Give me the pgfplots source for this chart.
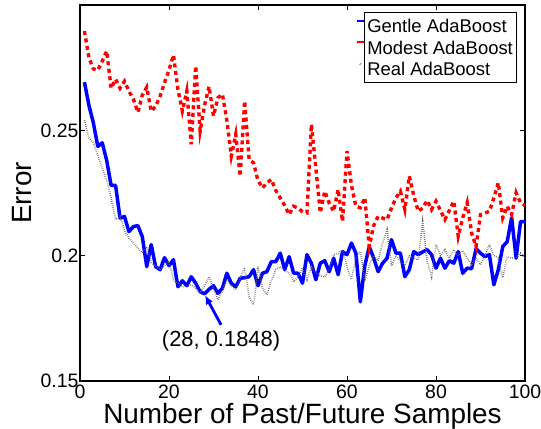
\documentclass[border=0pt]{standalone}
\usepackage{fontspec}
\setmainfont{Liberation Sans}
\usepackage{pgfplots}
\pgfplotsset{compat=1.18}
\usetikzlibrary{arrows.meta}
\begin{document}
\begin{tikzpicture}
\path[use as bounding box] (-80bp,-48bp) rectangle (461bp,381bp);
\begin{axis}[
  scale only axis, width=445bp, height=376bp,
  xmin=0, xmax=100, ymin=0.15, ymax=0.3,
  xtick={0,20,40,60,80,100},
  ytick={0.15,0.2,0.25}, yticklabels={0.15,0.2,0.25},
  scaled y ticks=false,
  tick align=inside, xtick pos=both, ytick pos=both,
  major tick length=5bp,
  axis line style={line width=1.2bp},
  every tick/.style={black, line width=0.8bp},
  /pgf/number format/assume math mode=true,
  tick label style={font=\fontsize{19.5}{22}\selectfont},
  yticklabel style={xshift=2bp},
  xlabel={Number of Past/Future Samples},
  ylabel={Error},
  label style={font=\fontsize{28}{32}\selectfont},
  xlabel style={at={(axis description cs:0.5,0)}, anchor=center, yshift=-35bp},
  ylabel style={at={(axis description cs:-0.1303,0.5)}, anchor=center},
  legend style={at={(rel axis cs:0.9813,0.9806)}, anchor=north east, draw=black, line width=1bp, fill=white,
    font=\fontsize{18.5}{21}\selectfont, inner xsep=3.3bp, inner ysep=3.8bp, row sep=2.7bp, column sep=0bp,
    nodes={inner sep=0bp, text depth=3bp, text height=16bp}},
  legend cell align=left,
  legend image code/.code={\draw[#1,solid,line width=2bp,overlay] (-10bp,5.5bp) -- (-3bp,5.5bp);},
]
\addplot[blue, line width=3.5bp, line join=round] table {
1 0.2692
2 0.2600
3 0.2530
4 0.2436
5 0.2450
6 0.2380
7 0.2280
8 0.2280
9 0.2150
10 0.2156
11 0.2096
12 0.2116
13 0.2120
14 0.2076
15 0.1956
16 0.2044
17 0.1956
18 0.1944
19 0.1992
20 0.1960
21 0.1984
22 0.1876
23 0.1900
24 0.1880
25 0.1916
26 0.1890
27 0.1856
28 0.1848
29 0.1866
30 0.1880
31 0.1850
32 0.1870
33 0.1930
34 0.1890
35 0.1876
36 0.1910
37 0.1912
38 0.1916
39 0.1944
40 0.1880
41 0.1930
42 0.1936
43 0.1976
44 0.1976
45 0.2010
46 0.1944
47 0.1996
48 0.1930
49 0.1930
50 0.1890
51 0.2004
52 0.1970
53 0.1904
54 0.1970
55 0.1980
56 0.1936
57 0.1990
58 0.1924
59 0.2016
60 0.2004
61 0.2050
62 0.2010
63 0.1816
64 0.1960
65 0.2036
66 0.1990
67 0.1936
68 0.1970
69 0.1990
70 0.2064
71 0.2010
72 0.2010
73 0.1916
74 0.1944
75 0.2016
76 0.2004
77 0.2015
78 0.2024
79 0.2004
80 0.1950
81 0.1990
82 0.1950
83 0.1980
84 0.1970
85 0.2016
86 0.1930
87 0.1950
88 0.1948
89 0.2028
90 0.2010
91 0.1996
92 0.2004
93 0.1884
94 0.1944
95 0.2036
96 0.2056
97 0.2152
98 0.1990
99 0.2136
100 0.2136
};
\addlegendentry{Gentle AdaBoost}
\addplot[red, line width=3.4bp, dash pattern=on 4bp off 3.5bp] table {
1 0.2896
2 0.2790
3 0.2745
4 0.2740
5 0.2776
6 0.2816
7 0.2668
8 0.2704
9 0.2668
10 0.2696
11 0.2656
12 0.2624
13 0.2572
14 0.2640
15 0.2672
16 0.2576
17 0.2596
18 0.2636
19 0.2690
20 0.2740
21 0.2800
22 0.2664
23 0.2577
24 0.2657
25 0.2444
26 0.2757
27 0.2497
28 0.2600
29 0.2675
30 0.2557
31 0.2630
32 0.2644
33 0.2540
34 0.2397
35 0.2484
36 0.2317
37 0.2617
38 0.2384
39 0.2370
40 0.2300
41 0.2270
42 0.2290
43 0.2304
44 0.2260
45 0.2230
46 0.2200
47 0.2164
48 0.2197
49 0.2190
50 0.2175
51 0.2171
52 0.2524
53 0.2350
54 0.2171
55 0.2257
56 0.2210
57 0.2177
58 0.2264
59 0.2137
60 0.2417
61 0.2280
62 0.2197
63 0.2191
64 0.2231
65 0.2037
66 0.2120
67 0.2157
68 0.2150
69 0.2144
70 0.2190
71 0.2230
72 0.2257
73 0.2184
74 0.2317
75 0.2240
76 0.2177
77 0.2190
78 0.2220
79 0.2184
80 0.2217
81 0.2180
82 0.2144
83 0.2180
84 0.2217
85 0.2077
86 0.2150
87 0.2211
88 0.2090
89 0.2037
90 0.2164
91 0.2170
92 0.2177
93 0.2230
94 0.2291
95 0.2151
96 0.2197
97 0.2164
98 0.2251
99 0.2211
100 0.2200
};
\addlegendentry{Modest AdaBoost}
\addplot[black!60, line width=1.6bp, dash pattern=on 0.6bp off 1.4bp,
  legend image code/.code={\fill[black!40,overlay] (-7bp,5.5bp) circle (0.7bp);}] table {
1 0.2540
2 0.2470
3 0.2450
4 0.2400
5 0.2350
6 0.2300
7 0.2230
8 0.2144
9 0.2157
10 0.2100
11 0.2070
12 0.2050
13 0.2030
14 0.2011
15 0.2036
16 0.1972
17 0.1960
18 0.1944
19 0.1960
20 0.1976
21 0.1904
22 0.1890
23 0.1876
24 0.1880
25 0.1884
26 0.1870
27 0.1852
28 0.1880
29 0.1916
30 0.1870
31 0.1824
32 0.1860
33 0.1904
34 0.1880
35 0.1864
36 0.1910
37 0.1952
38 0.1836
39 0.1804
40 0.1956
41 0.1872
42 0.1844
43 0.1900
44 0.1944
45 0.1956
46 0.1940
47 0.1932
48 0.1896
49 0.1916
50 0.1952
51 0.1904
52 0.1956
53 0.1932
54 0.1920
55 0.1916
56 0.1944
57 0.2004
58 0.2010
59 0.2024
60 0.1956
61 0.1904
62 0.1992
63 0.2016
64 0.1900
65 0.1960
66 0.2000
67 0.1980
68 0.2050
69 0.2104
70 0.1960
71 0.2000
72 0.1980
73 0.1960
74 0.2000
75 0.1990
76 0.1984
77 0.2136
78 0.1980
79 0.1916
80 0.2044
81 0.2000
82 0.2024
83 0.1990
84 0.2024
85 0.2000
86 0.2020
87 0.1990
88 0.1964
89 0.1990
90 0.1964
91 0.2000
92 0.2044
93 0.2000
94 0.1992
95 0.1912
96 0.1996
97 0.1990
98 0.1992
99 0.2010
100 0.1990
};
\addlegendentry{Real AdaBoost}
\draw[blue, line width=2.8bp, -{Latex[length=9bp,width=8bp]}] (axis cs:31.7,0.1724) -- (axis cs:28.1,0.1842);
\node[font=\fontsize{22}{26}\selectfont, anchor=center] at (axis cs:31.7,0.1662) {(28, 0.1848)};
\end{axis}
\end{tikzpicture}
\end{document}
